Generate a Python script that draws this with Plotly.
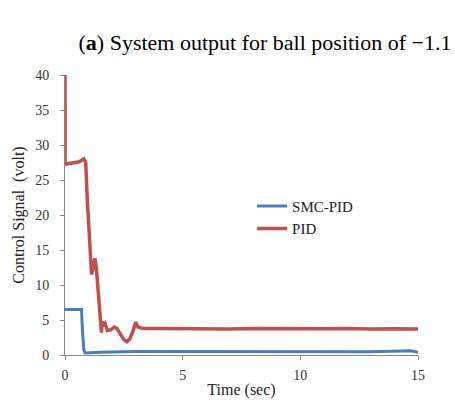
import plotly.graph_objects as go

# Data
pid_t = [0, 0.005, 0.05, 0.3, 0.6, 0.8, 0.88, 0.95, 1.05, 1.13, 1.2, 1.27, 1.33, 1.42, 1.5, 1.55,
         1.58, 1.62, 1.7, 1.8, 1.95, 2.1, 2.2, 2.35, 2.5, 2.63, 2.75, 2.9, 3.0, 3.1, 3.3,
         4, 5, 6, 7, 8, 9, 10, 11, 12, 13, 14, 15]
pid_v = [40, 27.2, 27.3, 27.4, 27.6, 28.0, 27.5, 22, 15, 11.5, 12.5, 13.8, 12.5, 8, 5, 3.2,
         4.8, 4.2, 4.5, 3.5, 3.6, 4.0, 3.8, 3.0, 2.2, 1.9, 2.3, 3.5, 4.7, 4.0, 3.8,
         3.8, 3.75, 3.8, 3.7, 3.8, 3.75, 3.7, 3.75, 3.8, 3.7, 3.75, 3.7]

smc_t = [0, 0.7, 0.75, 0.8, 0.85, 1.5, 3, 5, 8, 10, 13, 14.7, 15]
smc_v = [6.5, 6.5, 3.0, 0.8, 0.3, 0.4, 0.5, 0.5, 0.45, 0.5, 0.45, 0.6, 0.4]

x_ticks = [0, 5, 10, 15]
y_ticks = [0, 5, 10, 15, 20, 25, 30, 35, 40]

FONT = "Liberation Serif, Times New Roman, serif"

fig = go.Figure()
fig.add_trace(go.Scatter(x=smc_t, y=smc_v, mode="lines", name="SMC-PID",
                         line=dict(color="#4A7EBB", width=3)))
fig.add_trace(go.Scatter(x=pid_t, y=pid_v, mode="lines", name="PID",
                         line=dict(color="#C0504D", width=3.5)))

fig.update_layout(
    width=455, height=410,
    margin=dict(l=65, r=37, t=75, b=55),
    paper_bgcolor="white", plot_bgcolor="white",
    font=dict(family=FONT, size=14, color="#333333"),
    title=dict(text="(<b>a</b>) System output for ball position of \u22121.1",
               x=265/455, xanchor="center", y=1-42/410, yanchor="middle",
               yref="container",
               font=dict(family=FONT, size=22, color="black")),
    legend=dict(x=0.53, y=0.59, xanchor="left", yanchor="top",
                bgcolor="rgba(0,0,0,0)", font=dict(family=FONT, size=15, color="#222"),
                itemwidth=30, tracegroupgap=0),
    showlegend=True,
)
fig.update_xaxes(range=[0, 15], tickvals=x_ticks, showgrid=False, zeroline=False,
                 showline=True, linecolor="#888888", linewidth=1,
                 ticks="outside", ticklen=4, tickcolor="#888888",
                 ticklabelstandoff=3,
                 tickfont=dict(family=FONT, size=14, color="#333"),
                 title=dict(text="Time (sec)", standoff=2,
                            font=dict(family=FONT, size=16, color="#222")))
fig.update_yaxes(range=[0, 40], tickvals=y_ticks, showgrid=False, zeroline=False,
                 showline=True, linecolor="#888888", linewidth=1,
                 ticks="outside", ticklen=4, tickcolor="#888888",
                 ticklabelstandoff=8,
                 tickfont=dict(family=FONT, size=14, color="#333"),
                 title=dict(text="Control Signal  (volt)", standoff=6,
                            font=dict(family=FONT, size=16, color="#222")))

fig.write_html("out.html")
